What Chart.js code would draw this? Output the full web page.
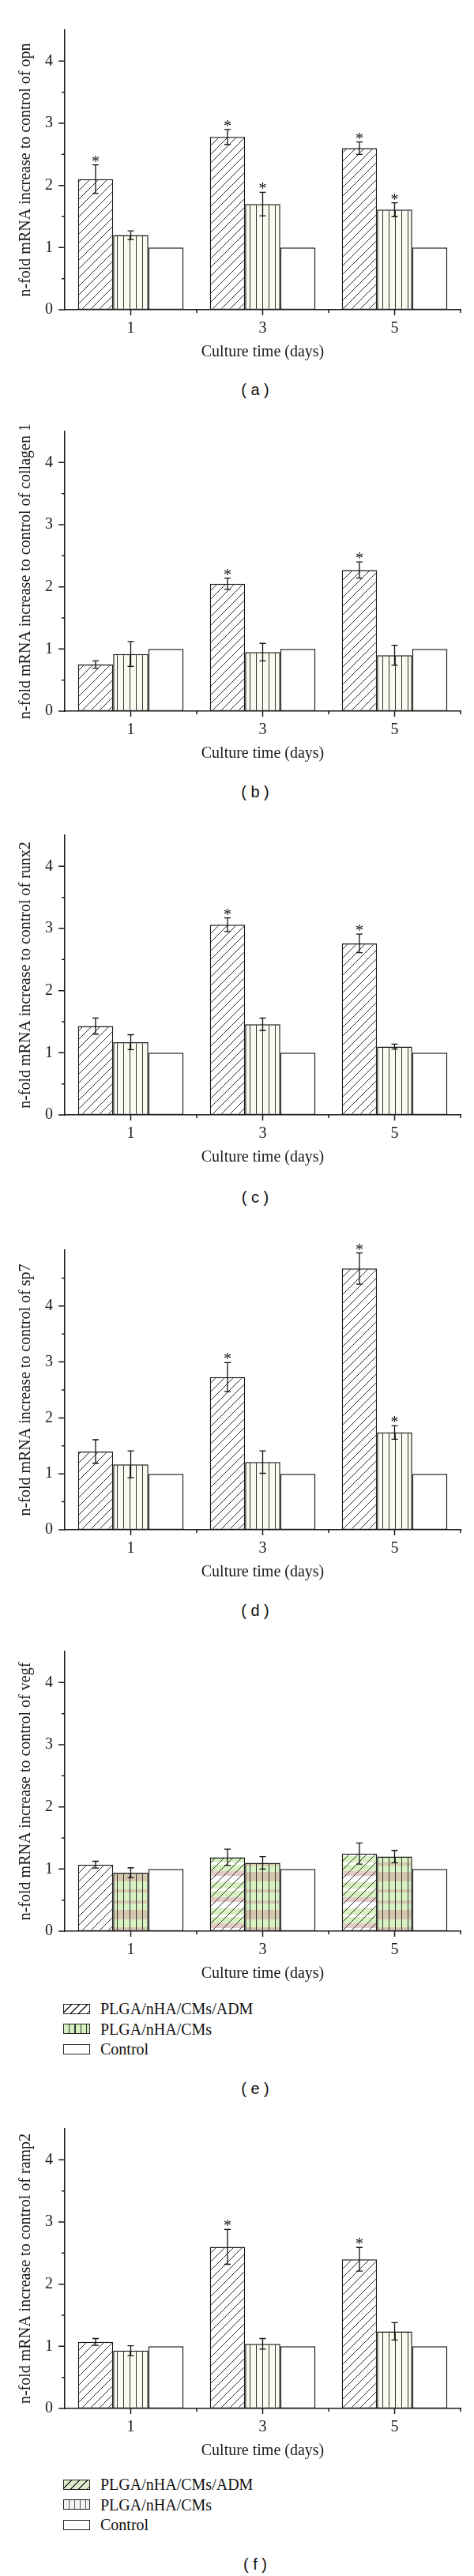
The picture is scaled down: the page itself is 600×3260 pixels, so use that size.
<!DOCTYPE html>
<html>
<head>
<meta charset="utf-8">
<script src="https://cdn.jsdelivr.net/npm/chart.js@4.4.0/dist/chart.umd.min.js"></script>
<style>
  html, body { margin: 0; padding: 0; background: #fff; }
  body { width: 600px; height: 3260px; position: relative; overflow: hidden; }
  canvas { position: absolute; left: 0; }
  .tag { position: absolute; left: 0; width: 646px; text-align: center; font: 20px 'Liberation Sans', Arial, sans-serif; color: #111; line-height: 24px; }
  .legend { position: absolute; left: 80px; font: 20px 'Liberation Serif', 'Times New Roman', serif; color: #111; }
  .legend div { height: 25.5px; line-height: 25.5px; white-space: nowrap; }
  .sw { display: inline-block; width: 34px; height: 13px; border: 1.5px solid #222; vertical-align: middle; margin-right: 13px; box-sizing: border-box; position: relative; top: -2px; }
</style>
</head>
<body>
<div class="tag" style="top:481px">( a )</div>
<div class="tag" style="top:990px">( b )</div>
<div class="tag" style="top:1503px">( c )</div>
<div class="tag" style="top:2026px">( d )</div>
<div class="tag" style="top:2631px">( e )</div>
<div class="tag" style="top:3233px">( f )</div>

<div class="legend" style="top:2530px">
  <div><span class="sw" style="background:repeating-linear-gradient(135deg,#fff 0 6px,#222 6px 7.2px)"></span>PLGA/nHA/CMs/ADM</div>
  <div><span class="sw" style="background:repeating-linear-gradient(90deg,#d6f0c0 0 6px,#333 6px 7.3px)"></span>PLGA/nHA/CMs</div>
  <div><span class="sw" style="background:#fff"></span>Control</div>
</div>
<div class="legend" style="top:3132px">
  <div><span class="sw" style="background:repeating-linear-gradient(135deg,#dfeccf 0 6px,#333 6px 7.2px)"></span>PLGA/nHA/CMs/ADM</div>
  <div><span class="sw" style="background:repeating-linear-gradient(90deg,#f2f2f2 0 6px,#555 6px 7px)"></span>PLGA/nHA/CMs</div>
  <div><span class="sw" style="background:#fff"></span>Control</div>
</div>

<script>
// categories and groups
const days = ['1', '3', '5'];
const groups = ['PLGA/nHA/CMs/ADM', 'PLGA/nHA/CMs', 'Control'];
const control = [1, 1, 1];

// (a) opn
const opnAdm = [2.10, 2.78, 2.60];
const opnAdmErr = [0.23, 0.12, 0.10];
const opnAdmSig = [true, true, true];
const opnCms = [1.20, 1.70, 1.61];
const opnCmsErr = [0.07, 0.19, 0.11];
const opnCmsSig = [false, true, true];

// (b) collagen 1
const colAdm = [0.75, 2.05, 2.27];
const colAdmErr = [0.06, 0.09, 0.13];
const colAdmSig = [false, true, true];
const colCms = [0.92, 0.95, 0.90];
const colCmsErr = [0.20, 0.14, 0.16];
const colCmsSig = [false, false, false];

// (c) runx2
const runxAdm = [1.43, 3.06, 2.76];
const runxAdmErr = [0.13, 0.11, 0.15];
const runxAdmSig = [false, true, true];
const runxCms = [1.17, 1.46, 1.10];
const runxCmsErr = [0.12, 0.10, 0.04];
const runxCmsSig = [false, false, false];

// (d) sp7
const sp7Adm = [1.40, 2.73, 4.67];
const sp7AdmErr = [0.21, 0.26, 0.28];
const sp7AdmSig = [false, true, true];
const sp7Cms = [1.17, 1.21, 1.74];
const sp7CmsErr = [0.24, 0.20, 0.12];
const sp7CmsSig = [false, false, true];

// (e) vegf
const vegfAdm = [1.07, 1.19, 1.25];
const vegfAdmErr = [0.055, 0.13, 0.17];
const vegfAdmSig = [false, false, false];
const vegfCms = [0.94, 1.10, 1.20];
const vegfCmsErr = [0.08, 0.10, 0.10];
const vegfCmsSig = [false, false, false];

// (f) ramp2
const rampAdm = [1.07, 2.60, 2.40];
const rampAdmErr = [0.055, 0.28, 0.19];
const rampAdmSig = [false, true, true];
const rampCms = [0.93, 1.04, 1.24];
const rampCmsErr = [0.08, 0.085, 0.14];
const rampCmsSig = [false, false, false];

const serif = "'Liberation Serif', 'Times New Roman', serif";
const ink = '#1a1a1a';

// hatch "/" pattern, optional coloured bands behind it
function hatch(ctx, bands) {
  const s = 11, h = 33;
  const c = document.createElement('canvas');
  c.width = s; c.height = h;
  const g = c.getContext('2d');
  g.fillStyle = '#fff'; g.fillRect(0, 0, s, h);
  (bands || []).forEach(([a, b, col]) => { g.fillStyle = col; g.fillRect(0, a, s, b - a); });
  g.strokeStyle = '#2a2a2a'; g.lineWidth = 1;
  g.beginPath();
  for (let k = -1; k <= 3; k++) { g.moveTo(0, (k + 1) * s); g.lineTo(s, k * s); }
  g.stroke();
  return ctx.createPattern(c, 'repeat');
}

// vertical stripe pattern
function stripes(ctx, base, bands) {
  const w = 8, h = 48;
  const c = document.createElement('canvas');
  c.width = w; c.height = h;
  const g = c.getContext('2d');
  g.fillStyle = base; g.fillRect(0, 0, w, h);
  (bands || []).forEach(([a, b, col]) => { g.fillStyle = col; g.fillRect(0, a, w, b - a); });
  g.fillStyle = '#333'; g.fillRect(4, 0, 1, h);
  return ctx.createPattern(c, 'repeat');
}

const pink = 'rgba(212,168,160,0.6)';
const green = '#d8f2c2';

const panels = [
  { gene: 'opn', y0: 392, yMax: 4.5, adm: opnAdm, admErr: opnAdmErr, admSig: opnAdmSig, cms: opnCms, cmsErr: opnCmsErr, cmsSig: opnCmsSig },
  { gene: 'collagen 1', y0: 900, yMax: 4.5, adm: colAdm, admErr: colAdmErr, admSig: colAdmSig, cms: colCms, cmsErr: colCmsErr, cmsSig: colCmsSig },
  { gene: 'runx2', y0: 1411, yMax: 4.5, adm: runxAdm, admErr: runxAdmErr, admSig: runxAdmSig, cms: runxCms, cmsErr: runxCmsErr, cmsSig: runxCmsSig },
  { gene: 'sp7', y0: 1936, yMax: 5, adm: sp7Adm, admErr: sp7AdmErr, admSig: sp7AdmSig, cms: sp7Cms, cmsErr: sp7CmsErr, cmsSig: sp7CmsSig },
  { gene: 'vegf', y0: 2444, yMax: 4.5, adm: vegfAdm, admErr: vegfAdmErr, admSig: vegfAdmSig, cms: vegfCms, cmsErr: vegfCmsErr, cmsSig: vegfCmsSig, tint: true },
  { gene: 'ramp2', y0: 3048, yMax: 4.5, adm: rampAdm, admErr: rampAdmErr, admSig: rampAdmSig, cms: rampCms, cmsErr: rampCmsErr, cmsSig: rampCmsSig }
];

// axis tick marks (major/minor) drawn from the scales
const axisTicks = {
  id: 'axisTicks',
  afterDraw(chart) {
    const { ctx, chartArea: a, scales: { x, y } } = chart;
    ctx.save();
    ctx.strokeStyle = ink; ctx.lineWidth = 1.5;
    ctx.beginPath();
    y.ticks.forEach((t) => {
      if (t.value >= y.max) return;
      const py = y.getPixelForValue(t.value);
      const len = Number.isInteger(t.value) ? 8 : 4;
      ctx.moveTo(a.left - len, py); ctx.lineTo(a.left, py);
    });
    const n = chart.data.labels.length;
    for (let i = 0; i < n; i++) {
      const px = x.getPixelForValue(i);
      ctx.moveTo(px, a.bottom); ctx.lineTo(px, a.bottom + 7);
      const edge = i < n - 1 ? (px + x.getPixelForValue(i + 1)) / 2 : a.right;
      ctx.moveTo(edge, a.bottom); ctx.lineTo(edge, a.bottom + 4);
    }
    ctx.stroke();
    ctx.restore();
  }
};

// error bars and significance stars
const errorBars = {
  id: 'errorBars',
  afterDatasetsDraw(chart) {
    const { ctx, scales: { y } } = chart;
    ctx.save();
    ctx.strokeStyle = '#111'; ctx.lineWidth = 1.3;
    ctx.fillStyle = '#111';
    ctx.font = '20px ' + serif;
    ctx.textAlign = 'center';
    chart.data.datasets.forEach((ds, di) => {
      if (!ds.errors) return;
      chart.getDatasetMeta(di).data.forEach((bar, i) => {
        const v = ds.data[i], e = ds.errors[i];
        const top = y.getPixelForValue(v + e), bot = y.getPixelForValue(v - e);
        ctx.beginPath();
        ctx.moveTo(bar.x, top); ctx.lineTo(bar.x, bot);
        ctx.moveTo(bar.x - 4, top); ctx.lineTo(bar.x + 4, top);
        ctx.moveTo(bar.x - 4, bot); ctx.lineTo(bar.x + 4, bot);
        ctx.stroke();
        if (ds.stars && ds.stars[i]) ctx.fillText('*', bar.x, top + 2);
      });
    });
    ctx.restore();
  }
};

panels.forEach((p) => {
  const cv = document.createElement('canvas');
  cv.width = 600; cv.height = 451;
  cv.style.top = (p.y0 - 381) + 'px';
  document.body.appendChild(cv);
  const ctx = cv.getContext('2d');

  let admFill, cmsFill;
  if (p.tint) {
    const tinted = hatch(ctx, [[0, 8, green], [8, 14, pink], [22, 30, green]]);
    admFill = [hatch(ctx), tinted, tinted];
    cmsFill = stripes(ctx, green, [[6, 10, pink], [18, 30, pink], [40, 44, pink]]);
  } else {
    admFill = hatch(ctx);
    cmsFill = stripes(ctx, '#fbfaf0');
  }

  new Chart(cv, {
    type: 'bar',
    data: {
      labels: days,
      datasets: [
        { label: groups[0], data: p.adm, errors: p.admErr, stars: p.admSig, backgroundColor: admFill },
        { label: groups[1], data: p.cms, errors: p.cmsErr, stars: p.cmsSig, backgroundColor: cmsFill },
        { label: groups[2], data: control, backgroundColor: '#fff' }
      ]
    },
    options: {
      responsive: false,
      animation: false,
      layout: { padding: { top: 10, right: 17, left: 0, bottom: 0 } },
      datasets: {
        bar: { categoryPercentage: 0.8, barPercentage: 1.0, borderColor: ink, borderWidth: 1.5, borderSkipped: false }
      },
      scales: {
        x: {
          grid: { display: false, drawTicks: false },
          border: { display: true, color: ink, width: 1.5 },
          ticks: { color: ink, font: { family: serif, size: 20 }, padding: 12 },
          title: { display: true, text: 'Culture time (days)', color: ink, font: { family: serif, size: 20 }, padding: { top: 0, bottom: 4 } },
          afterFit: (s) => { s.height = 70; }
        },
        y: {
          min: 0,
          max: p.yMax,
          grid: { display: false, drawTicks: false },
          border: { display: true, color: ink, width: 1.5 },
          ticks: {
            stepSize: 0.5,
            autoSkip: false,
            padding: 15,
            color: ink,
            font: { family: serif, size: 20 },
            callback: (v) => (Number.isInteger(v) && v < p.yMax) ? String(v) : ''
          },
          title: { display: true, text: 'n-fold mRNA increase to control of ' + p.gene, color: ink, font: { family: serif, size: 20 }, padding: { top: 21, bottom: 0 } },
          afterFit: (s) => { s.width = 82; }
        }
      },
      plugins: { legend: { display: false }, tooltip: { enabled: false } }
    },
    plugins: [axisTicks, errorBars]
  });
});
</script>
</body>
</html>
